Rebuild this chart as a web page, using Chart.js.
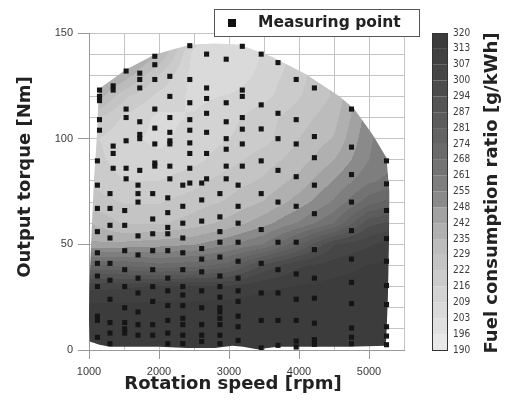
<!DOCTYPE html>
<html>
<head>
<meta charset="utf-8">
<script src="https://cdn.jsdelivr.net/npm/chart.js@4.4.1/dist/chart.umd.min.js"></script>
<style>
  html, body { margin: 0; padding: 0; background: #fff; }
  #wrap { width: 505px; height: 405px; }
</style>
</head>
<body>
<div id="wrap"><canvas id="bsfcChart" width="505" height="405"></canvas></div>
<script>
  "use strict";

  // axis ticks (labelled ones only, grid every 500 rpm / 10 Nm)
  const xTickLabels = ["1000", "2000", "3000", "4000", "5000"];
  const yTickLabels = ["0", "50", "100", "150"];

  // colour bar levels [g/kWh] and the printed labels
  const cbLevels = [190, 196.5, 203, 209.5, 216, 222.5, 229, 235.5, 242, 248.5, 255,
    261.5, 268, 274.5, 281, 287.5, 294, 300.5, 307, 313.5, 320];
  const cbTickLabels = ["190", "196", "203", "209", "216", "222", "229", "235", "242", "248", "255",
    "261", "268", "274", "281", "287", "294", "300", "307", "313", "320"];
  // grey level of each band, low to high
  const bandGray = [232, 224, 218, 211, 203, 196, 188, 176, 162, 138,
    126, 115, 106, 99, 92, 85, 76, 70, 64, 60];

  // fuel consumption map
  const gridRpm = [1000, 1500, 2000, 2500, 3000, 3500, 4000, 4500, 5000, 5500];
  const gridTorque = [0, 10, 20, 30, 40, 50, 60, 70, 80, 90, 100, 110, 120, 130, 140, 150];
  const fuelMap = [
    [318, 318, 318, 318, 318, 318, 318, 318, 318, 318],
    [318, 318, 318, 318, 318, 318, 318, 318, 318, 318],
    [316, 316, 316, 316, 317, 318, 318, 318, 318, 318],
    [305, 306, 308, 308, 308, 312, 314, 316, 317, 318],
    [275, 274, 270, 272, 278, 296, 306, 310, 314, 316],
    [243, 244, 246, 248, 254, 262, 280, 300, 306, 312],
    [236, 228, 228, 232, 238, 246, 256, 268, 292, 298],
    [226, 222, 222, 226, 230, 236, 245, 256, 272, 280],
    [222, 216, 216, 220, 226, 230, 238, 249, 260, 266],
    [220, 212, 211, 214, 220, 226, 232, 242, 255, 262],
    [218, 211, 208, 212, 216, 220, 229, 236, 254, 262],
    [226, 215, 208, 210, 214, 220, 226, 233, 252, 262],
    [244, 224, 214, 208, 210, 214, 222, 230, 250, 262],
    [252, 240, 222, 207, 204, 212, 220, 230, 250, 262],
    [256, 250, 236, 207, 203, 210, 218, 230, 250, 262],
    [258, 256, 244, 216, 206, 210, 218, 230, 250, 262]
  ];

  // operating envelope (max torque curve + edges)
  const envRpm = [1010, 1000, 1005, 1030, 1070, 1110, 1140, 1160, 1530, 1940, 2440, 2800, 3150,
    3630, 4100, 4580, 4790, 5050, 5250, 5290, 5285, 5270, 5250, 5240,
    4700, 4200, 3700, 3400, 3200, 3050, 2800, 2400, 2000, 1600, 1300, 1150];
  const envTorque = [4, 15, 30, 50, 80, 100, 122, 124, 132.7, 139.8, 144.4, 145, 144.5,
    138.5, 130.5, 120, 114, 102, 91, 75, 50, 25, 8, 2,
    1.5, 1.5, 1.5, 0.3, 1.5, 2, 1, 1, 1.5, 1.5, 1.5, 2.5];

  // measuring points, grouped by speed column
  const measRpm = [1150, 1120, 1345, 1300, 1530, 1510, 1725, 1700, 1940, 1910, 2155, 2125,
    2440, 2340, 2680, 2610, 2960, 2870, 3190, 3130, 3460, 3700, 3960, 4220, 4750, 5250];
  const measTorque = [
    [123, 120, 118, 109, 104],
    [89.5, 78, 67, 56, 46, 41, 35, 30, 16, 14, 6],
    [125, 123, 96.5, 93, 86],
    [74, 67, 59, 53, 41, 33, 24, 13, 8, 3],
    [132, 114, 110, 99, 86, 81],
    [66, 59, 47, 38, 30, 20, 13, 10, 8],
    [131, 128, 124, 108, 102, 100, 85],
    [78, 74, 70, 54, 45, 34, 27, 18, 12, 7],
    [139, 135, 128, 114, 105, 97.5, 88.5, 87],
    [74, 62, 55, 47, 38, 30, 23, 12, 7],
    [129.5, 120, 110, 103, 99, 97.5, 87, 81],
    [72, 65, 58, 55, 47, 34, 28, 21, 14, 8, 3],
    [144, 128, 117, 109, 104, 98, 93, 86, 79],
    [78, 68, 60, 53, 46, 38, 30, 26, 21, 15, 12, 7, 3],
    [140, 124, 119, 112, 103, 93, 81],
    [79, 71, 61, 48, 43, 37, 28, 20, 12, 7, 4],
    [137.6, 117, 108, 100, 95, 87, 81],
    [74, 63, 56, 51, 44, 35, 30, 25, 20, 18, 15, 12, 7, 3],
    [143.7, 123, 120, 110, 104.5, 97.5, 87],
    [78, 68, 60, 51, 42, 34, 28, 23, 16, 11, 4.5],
    [140, 116, 104.6, 89.5, 74, 57, 41, 27, 14, 1],
    [136, 112, 100, 85, 70, 51, 38, 27, 14, 2.2],
    [128, 109, 97.5, 82, 68, 51, 36, 24, 14, 4.2, 1.4],
    [124, 101, 91, 78, 64.5, 47.5, 34, 24.5, 12.7, 4.9, 2.7],
    [114, 96, 83, 70, 56.5, 43, 32, 22, 10.4, 6, 3],
    [89.5, 78.6, 66, 52.7, 42, 30.5, 21.5, 11, 6.6, 2.5]
  ];

  const TITLE_FONT = "bold 18px 'DejaVu Sans', Verdana, sans-serif";
  const TICK_FONT = { family: "'Liberation Sans', Arial, sans-serif", size: 11 };
  const CB_FONT = { family: "'Liberation Sans Narrow', 'DejaVu Sans Condensed', 'Liberation Sans', sans-serif", size: 10 };

  const points = [];
  measRpm.forEach((rpm, k) => {
    measTorque[k].forEach((t) => points.push({ x: rpm, y: t }));
  });

  function locate(arr, v) {
    const n = arr.length - 1;
    if (v <= arr[0]) return [0, 0];
    if (v >= arr[n]) return [n - 1, 1];
    let k = 0;
    while (arr[k + 1] < v) k++;
    return [k, (v - arr[k]) / (arr[k + 1] - arr[k])];
  }

  function sampleMap(rpm, tq) {
    const [c, fx] = locate(gridRpm, rpm);
    const [r, fy] = locate(gridTorque, tq);
    const a = fuelMap[r][c] * (1 - fx) + fuelMap[r][c + 1] * fx;
    const b = fuelMap[r + 1][c] * (1 - fx) + fuelMap[r + 1][c + 1] * fx;
    return a * (1 - fy) + b * fy;
  }

  function bandOf(v) {
    let k = 0;
    while (k < bandGray.length - 1 && v >= cbLevels[k + 1]) k++;
    return k;
  }

  // filled contour map, clipped to the envelope, painted under the points
  const contourPlugin = {
    id: "contour",
    beforeDatasetsDraw(chart) {
      const { ctx, chartArea: area, scales } = chart;
      const xs = scales.x;
      const ys = scales.y;
      const w = Math.round(area.right - area.left);
      const h = Math.round(area.bottom - area.top);
      const off = document.createElement("canvas");
      off.width = w;
      off.height = h;
      const octx = off.getContext("2d");
      const img = octx.createImageData(w, h);
      for (let j = 0; j < h; j++) {
        const tq = ys.getValueForPixel(area.top + j + 0.5);
        for (let i = 0; i < w; i++) {
          const rpm = xs.getValueForPixel(area.left + i + 0.5);
          const g = bandGray[bandOf(sampleMap(rpm, tq))];
          const p = (j * w + i) * 4;
          img.data[p] = g;
          img.data[p + 1] = g;
          img.data[p + 2] = g;
          img.data[p + 3] = 255;
        }
      }
      octx.putImageData(img, 0, 0);

      ctx.save();
      ctx.beginPath();
      envRpm.forEach((rpm, k) => {
        const px = xs.getPixelForValue(rpm);
        const py = ys.getPixelForValue(envTorque[k]);
        if (k === 0) ctx.moveTo(px, py); else ctx.lineTo(px, py);
      });
      ctx.closePath();
      ctx.clip();
      ctx.drawImage(off, area.left, area.top);
      ctx.restore();
    }
  };

  // colour bar, axis titles and legend box
  const decorPlugin = {
    id: "decor",
    afterDraw(chart) {
      const { ctx, scales } = chart;
      const cb = scales.cb;
      const barX = cb.left + 28;
      const barW = 15;

      ctx.save();
      for (let k = 0; k < bandGray.length; k++) {
        const y1 = cb.getPixelForValue(cbLevels[k]);
        const y2 = cb.getPixelForValue(cbLevels[k + 1]);
        const g = bandGray[k];
        ctx.fillStyle = `rgb(${g},${g},${g})`;
        ctx.fillRect(barX, y2, barW, y1 - y2);
      }
      ctx.strokeStyle = "#333";
      ctx.lineWidth = 1;
      const top = cb.getPixelForValue(cbLevels[cbLevels.length - 1]);
      const bottom = cb.getPixelForValue(cbLevels[0]);
      ctx.strokeRect(barX + 0.5, Math.round(top) + 0.5, barW, Math.round(bottom - top));

      ctx.fillStyle = "#222";
      ctx.font = TITLE_FONT;
      ctx.textAlign = "center";
      ctx.textBaseline = "middle";
      ctx.fillText("Rotation speed [rpm]", 233, 384);

      ctx.save();
      ctx.translate(25, 177);
      ctx.rotate(-Math.PI / 2);
      ctx.fillText("Output torque [Nm]", 0, 0);
      ctx.restore();

      ctx.save();
      ctx.translate(492, 193);
      ctx.rotate(-Math.PI / 2);
      ctx.fillText("Fuel consumption ratio [g/kWh]", 0, 0);
      ctx.restore();

      // legend
      ctx.fillStyle = "#fff";
      ctx.fillRect(214, 9, 205, 27);
      ctx.strokeStyle = "#555";
      ctx.strokeRect(214.5, 9.5, 205, 27);
      ctx.fillStyle = "#111";
      ctx.fillRect(228, 19, 8, 8);
      ctx.fillStyle = "#222";
      ctx.font = "bold 15.5px 'DejaVu Sans', Verdana, sans-serif";
      ctx.textAlign = "left";
      ctx.fillText(chart.data.datasets[0].label, 258, 23);
      ctx.restore();
    }
  };

  new Chart(document.getElementById("bsfcChart"), {
    type: "scatter",
    data: {
      datasets: [
        {
          label: "Measuring point",
          data: points,
          pointStyle: "rect",
          pointRadius: 3.6,
          pointHoverRadius: 3.6,
          backgroundColor: "#151515",
          borderColor: "#151515",
          borderWidth: 0
        }
      ]
    },
    options: {
      responsive: false,
      animation: false,
      devicePixelRatio: 1,
      events: [],
      layout: { padding: { top: 33, left: 0, right: 0, bottom: 0 } },
      plugins: {
        legend: { display: false },
        tooltip: { enabled: false }
      },
      scales: {
        x: {
          type: "linear",
          min: 1000,
          max: 5500,
          afterFit: (s) => { s.height = 55; },
          ticks: {
            stepSize: 500,
            autoSkip: false,
            maxRotation: 0,
            padding: 6,
            color: "#3a3a3a",
            font: TICK_FONT,
            callback: (v) => (xTickLabels.includes(String(v)) ? String(v) : "")
          },
          grid: {
            color: "#c4c4c4",
            tickLength: 9,
            tickColor: (c) => (c.tick && xTickLabels.includes(String(c.tick.value)) ? "#999" : "transparent")
          },
          border: { color: "#999" }
        },
        y: {
          type: "linear",
          min: 0,
          max: 150,
          afterFit: (s) => { s.width = 89; },
          ticks: {
            stepSize: 10,
            autoSkip: false,
            padding: 5,
            color: "#3a3a3a",
            font: TICK_FONT,
            callback: (v) => (yTickLabels.includes(String(v)) ? String(v) : "")
          },
          grid: {
            color: "#c4c4c4",
            tickLength: 11,
            tickColor: (c) => (c.tick && yTickLabels.includes(String(c.tick.value)) ? "#999" : "transparent")
          },
          border: { color: "#999" }
        },
        cb: {
          type: "linear",
          axis: "y",
          position: "right",
          min: 190,
          max: 320,
          afterFit: (s) => { s.width = 101; },
          afterBuildTicks: (s) => { s.ticks = cbLevels.map((v) => ({ value: v })); },
          ticks: {
            autoSkip: false,
            padding: 0,
            color: "#3a3a3a",
            font: CB_FONT,
            callback: (v, i) => cbTickLabels[i]
          },
          // invisible tick marks only push the labels past the colour bar
          grid: {
            display: true,
            drawOnChartArea: false,
            drawTicks: true,
            tickLength: 49,
            color: "transparent",
            tickColor: "transparent"
          },
          border: { display: false }
        }
      }
    },
    plugins: [contourPlugin, decorPlugin]
  });
</script>
</body>
</html>
